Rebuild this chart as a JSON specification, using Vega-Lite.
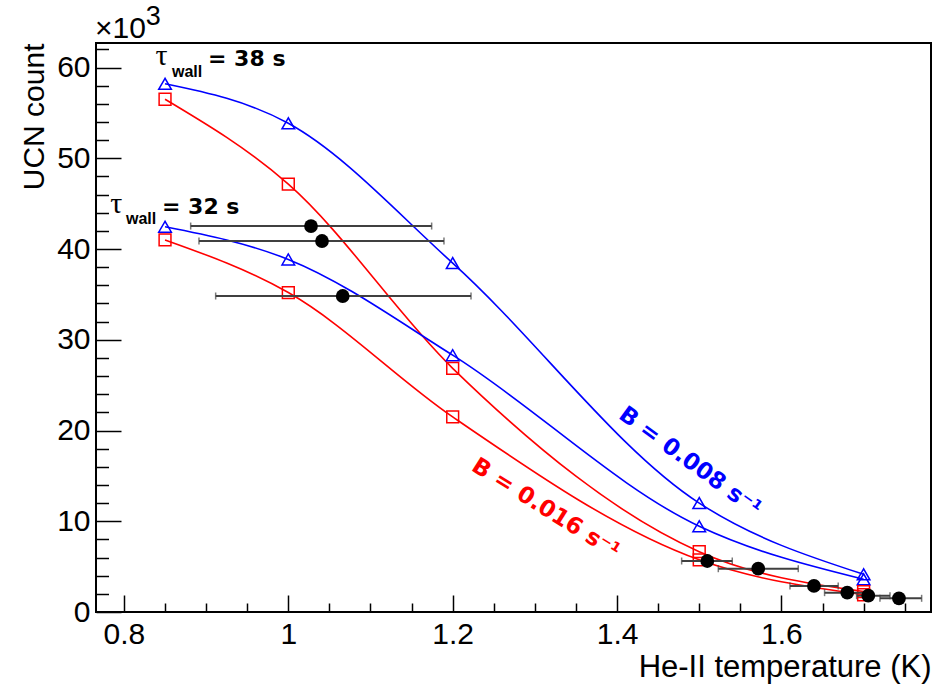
{
  "$schema": "https://vega.github.io/schema/vega-lite/v6.json",
  "width": 835,
  "height": 569,
  "autosize": "none",
  "padding": {"left": 96, "top": 43, "right": 7, "bottom": 73},
  "background": "white",
  "config": {
    "view": {"stroke": "black", "strokeWidth": 2},
    "font": "Liberation Sans",
    "axis": {
      "grid": false,
      "domain": false,
      "labelFont": "Liberation Sans",
      "labelFontSize": 30,
      "labelColor": "black",
      "titleFont": "Liberation Sans",
      "titleFontSize": 30,
      "titleFontWeight": "normal",
      "titleColor": "black",
      "tickColor": "black",
      "tickWidth": 1.5,
      "labelOverlap": false,
      "labelFlush": false
    }
  },
  "datasets": {
    "curves": [
      {"series": "b8_38", "B": "0.008", "x": 0.85, "y": 58.2},
      {"series": "b8_38", "B": "0.008", "x": 1.0, "y": 53.85},
      {"series": "b8_38", "B": "0.008", "x": 1.2, "y": 38.45},
      {"series": "b8_38", "B": "0.008", "x": 1.5, "y": 12.0},
      {"series": "b8_38", "B": "0.008", "x": 1.7, "y": 4.15},
      {"series": "b16_38", "B": "0.016", "x": 0.85, "y": 56.5},
      {"series": "b16_38", "B": "0.016", "x": 1.0, "y": 47.15},
      {"series": "b16_38", "B": "0.016", "x": 1.2, "y": 26.85},
      {"series": "b16_38", "B": "0.016", "x": 1.5, "y": 6.65},
      {"series": "b16_38", "B": "0.016", "x": 1.7, "y": 2.25},
      {"series": "b8_32", "B": "0.008", "x": 0.85, "y": 42.45},
      {"series": "b8_32", "B": "0.008", "x": 1.0, "y": 38.85},
      {"series": "b8_32", "B": "0.008", "x": 1.2, "y": 28.3},
      {"series": "b8_32", "B": "0.008", "x": 1.5, "y": 9.45},
      {"series": "b8_32", "B": "0.008", "x": 1.7, "y": 3.6},
      {"series": "b16_32", "B": "0.016", "x": 0.85, "y": 41.0},
      {"series": "b16_32", "B": "0.016", "x": 1.0, "y": 35.2},
      {"series": "b16_32", "B": "0.016", "x": 1.2, "y": 21.5},
      {"series": "b16_32", "B": "0.016", "x": 1.5, "y": 5.75},
      {"series": "b16_32", "B": "0.016", "x": 1.7, "y": 1.9}
    ],
    "meas": [
      {"x": 1.0276, "lo": 0.8812, "hi": 1.1744, "y": 42.53},
      {"x": 1.041, "lo": 0.8913, "hi": 1.1894, "y": 40.88},
      {"x": 1.0662, "lo": 0.9116, "hi": 1.2223, "y": 34.82},
      {"x": 1.5098, "lo": 1.4786, "hi": 1.5402, "y": 5.62},
      {"x": 1.5718, "lo": 1.5232, "hi": 1.6205, "y": 4.77},
      {"x": 1.6396, "lo": 1.6104, "hi": 1.6691, "y": 2.87},
      {"x": 1.6801, "lo": 1.6525, "hi": 1.7029, "y": 2.13},
      {"x": 1.7057, "lo": 1.6915, "hi": 1.7321, "y": 1.8},
      {"x": 1.743, "lo": 1.7199, "hi": 1.7706, "y": 1.51}
    ],
    "mult": [{"text": "×10", "x": 0.7648, "y": 63.22}],
    "expo": [{"text": "3", "x": 0.8265, "y": 64.66}],
    "tau": [
      {"text": "τ", "x": 0.8385, "y": 60.28},
      {"text": "τ", "x": 0.7833, "y": 43.93}
    ],
    "wall": [
      {"text": "wall", "x": 0.8585, "y": 58.99},
      {"text": "wall", "x": 0.8025, "y": 42.75}
    ],
    "eq": [
      {"text": "= 38 s", "x": 0.9023, "y": 60.17},
      {"text": "= 32 s", "x": 0.8463, "y": 43.86}
    ],
    "b8": [{"text": "B = 0.008 s⁻¹", "x": 1.4005, "y": 21.42}],
    "b16": [{"text": "B = 0.016 s⁻¹", "x": 1.2215, "y": 15.67}]
  },
  "encoding": {
    "x": {
      "field": "x",
      "type": "quantitative",
      "scale": {"domain": [0.766, 1.782], "nice": false, "zero": false},
      "axis": {
        "values": [0.8, 0.85, 0.9, 0.95, 1.0, 1.05, 1.1, 1.15, 1.2, 1.25, 1.3, 1.35, 1.4, 1.45, 1.5, 1.55, 1.6, 1.65, 1.7, 1.75],
        "tickSize": {"condition": {"test": "abs(datum.value*5 - round(datum.value*5)) < 0.001", "value": -17}, "value": -9},
        "labelExpr": "abs(datum.value*5 - round(datum.value*5)) < 0.001 ? format(datum.value, '~g') : ''",
        "labelPadding": 24,
        "title": "He-II temperature (K)",
        "titleFontSize": 31,
        "titleAnchor": "end",
        "titleAlign": "right",
        "titleBaseline": "alphabetic",
        "titleX": 835,
        "titleY": 64
      }
    },
    "y": {
      "field": "y",
      "type": "quantitative",
      "scale": {"domain": [0, 62.7], "nice": false, "zero": false},
      "axis": {
        "values": [0, 2, 4, 6, 8, 10, 12, 14, 16, 18, 20, 22, 24, 26, 28, 30, 32, 34, 36, 38, 40, 42, 44, 46, 48, 50, 52, 54, 56, 58, 60, 62],
        "tickSize": {"condition": {"test": "datum.value % 10 === 0", "value": -25}, "value": -12.5},
        "labelExpr": "datum.value % 10 === 0 ? format(datum.value, 'd') : ''",
        "labelPadding": 31,
        "title": "UCN count",
        "titleAnchor": "end",
        "titleAlign": "right",
        "titleAngle": 270,
        "titleBaseline": "alphabetic",
        "titleX": -53,
        "titleY": 0
      }
    }
  },
  "layer": [
    {
      "data": {"name": "curves"},
      "mark": {"type": "line", "interpolate": "monotone", "strokeWidth": 1.6},
      "encoding": {
        "color": {"field": "B", "type": "nominal", "scale": {"domain": ["0.008", "0.016"], "range": ["#0000ff", "#ff0000"]}, "legend": null},
        "detail": {"field": "series"}
      }
    },
    {
      "data": {"name": "curves"},
      "transform": [{"filter": "datum.B == '0.008'"}],
      "mark": {"type": "point", "shape": "triangle-up", "filled": false, "color": "#0000ff", "size": 160, "strokeWidth": 1.5, "opacity": 1}
    },
    {
      "data": {"name": "curves"},
      "transform": [{"filter": "datum.B == '0.016'"}],
      "mark": {"type": "point", "shape": "square", "filled": false, "color": "#ff0000", "size": 140, "strokeWidth": 1.5, "opacity": 1}
    },
    {
      "data": {"name": "meas"},
      "mark": {"type": "rule", "color": "#404040", "strokeWidth": 2},
      "encoding": {
        "x": {"field": "lo", "type": "quantitative"},
        "x2": {"field": "hi"}
      }
    },
    {
      "data": {"name": "meas"},
      "mark": {"type": "tick", "orient": "vertical", "color": "#404040", "thickness": 1.5, "size": 7},
      "encoding": {
        "x": {"field": "lo", "type": "quantitative"}
      }
    },
    {
      "data": {"name": "meas"},
      "mark": {"type": "tick", "orient": "vertical", "color": "#404040", "thickness": 1.5, "size": 7},
      "encoding": {
        "x": {"field": "hi", "type": "quantitative"}
      }
    },
    {
      "data": {"name": "meas"},
      "mark": {"type": "point", "shape": "circle", "filled": true, "color": "black", "size": 190, "opacity": 1}
    },
    {
      "data": {"name": "mult"},
      "mark": {"type": "text", "font": "Liberation Sans", "fontSize": 30, "align": "left", "baseline": "alphabetic", "color": "black"},
      "encoding": {"text": {"field": "text"}}
    },
    {
      "data": {"name": "expo"},
      "mark": {"type": "text", "font": "Liberation Sans", "fontSize": 27, "align": "left", "baseline": "alphabetic", "color": "black"},
      "encoding": {"text": {"field": "text"}}
    },
    {
      "data": {"name": "tau"},
      "mark": {"type": "text", "font": "Liberation Serif", "fontSize": 30, "align": "left", "baseline": "alphabetic", "color": "black"},
      "encoding": {"text": {"field": "text"}}
    },
    {
      "data": {"name": "wall"},
      "mark": {"type": "text", "font": "Liberation Sans", "fontWeight": "bold", "fontSize": 16, "align": "left", "baseline": "alphabetic", "color": "black"},
      "encoding": {"text": {"field": "text"}}
    },
    {
      "data": {"name": "eq"},
      "mark": {"type": "text", "font": "DejaVu Sans", "fontWeight": "bold", "fontSize": 22, "align": "left", "baseline": "alphabetic", "color": "black"},
      "encoding": {"text": {"field": "text"}}
    },
    {
      "data": {"name": "b8"},
      "mark": {"type": "text", "font": "DejaVu Sans", "fontWeight": "bold", "fontSize": 23, "align": "left", "baseline": "alphabetic", "angle": 36, "color": "#0000ff"},
      "encoding": {"text": {"field": "text"}}
    },
    {
      "data": {"name": "b16"},
      "mark": {"type": "text", "font": "DejaVu Sans", "fontWeight": "bold", "fontSize": 23, "align": "left", "baseline": "alphabetic", "angle": 32, "color": "#ff0000"},
      "encoding": {"text": {"field": "text"}}
    }
  ]
}
